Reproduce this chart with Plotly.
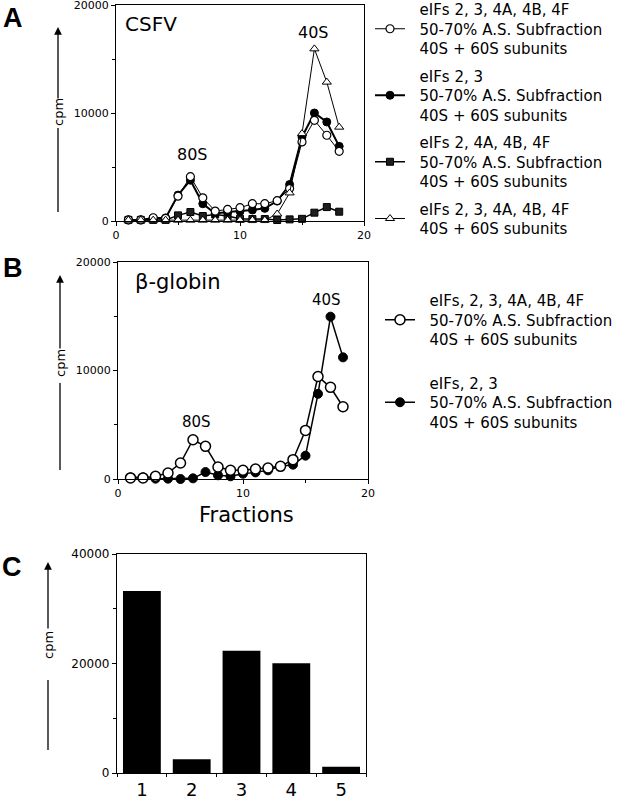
import plotly.graph_objects as go

W, H = 631, 800

# ---------------- data ----------------
fractions = list(range(1, 19))

# Panel A - CSFV
csfv_open = [100, 100, 300, 250, 2300, 4100, 2150, 920, 1070, 1230, 1600, 1600, 1880, 3000, 7320, 9320, 7940, 6450]
csfv_filled = [100, 100, 280, 280, 2400, 3780, 1600, 700, 830, 900, 1020, 1170, 1850, 3380, 7780, 10000, 9170, 6910]
csfv_square = [100, 100, 100, 100, 520, 830, 460, 600, 460, 200, 180, 180, 90, 150, 200, 770, 1290, 860]
csfv_triangle = [80, 80, 80, 80, 80, 80, 80, 80, 80, 80, 80, 80, 650, 2600, 8090, 15940, 12860, 8690]

# Panel B - beta-globin
glob_open = [100, 100, 250, 550, 1470, 3620, 3010, 1100, 800, 800, 920, 1010, 1170, 1780, 4480, 9450, 8450, 6660]
glob_filled = [150, 150, 30, 30, 0, 60, 640, 340, 250, 490, 610, 800, 1170, 1320, 2150, 7850, 14960, 11210]

# Panel C
bar_pos = [1, 2, 3, 4, 5]
bar_labels = ["1", "2", "3", "4", "5"]
bar_values = [33240, 2500, 22340, 20030, 1150]

NB = "\u00a0\u00a0"
def lg(*lines):
    return "<br>".join(NB + l for l in lines)

names_a = [
    lg("eIFs 2, 3, 4A, 4B, 4F", "50-70% A.S. Subfraction", "40S + 60S subunits"),
    lg("eIFs 2, 3", "50-70% A.S. Subfraction", "40S + 60S subunits"),
    lg("eIFs 2, 4A, 4B, 4F", "50-70% A.S. Subfraction", "40S + 60S subunits"),
    lg("eIFs 2, 3, 4A, 4B, 4F", "40S + 60S subunits"),
]
names_b = [
    lg("eIFs, 2, 3, 4A, 4B, 4F", "50-70% A.S. Subfraction", "40S + 60S subunits"),
    lg("eIFs, 2, 3", "50-70% A.S. Subfraction", "40S + 60S subunits"),
]

FONT = "DejaVu Sans"

def px_x(p):
    return p / W

def px_y(p):
    return (H - p) / H

fig = go.Figure()

# Panel A traces (drawing order: squares, filled, open, triangles)
fig.add_trace(go.Scatter(x=fractions, y=csfv_square, mode="lines+markers", xaxis="x", yaxis="y",
                         line=dict(color="black", width=1.5),
                         marker=dict(symbol="square", size=7, color="#1e1e1e", line=dict(color="black", width=1)),
                         name=names_a[2], legend="legend", legendgroup="a3", legendrank=3, cliponaxis=False))
fig.add_trace(go.Scatter(x=fractions, y=csfv_filled, mode="lines+markers", xaxis="x", yaxis="y",
                         line=dict(color="black", width=2),
                         marker=dict(symbol="circle", size=8, color="black", line=dict(color="black", width=1)),
                         name=names_a[1], legend="legend", legendgroup="a2", legendrank=2, cliponaxis=False))
fig.add_trace(go.Scatter(x=fractions, y=csfv_open, mode="lines+markers", xaxis="x", yaxis="y",
                         line=dict(color="black", width=1),
                         marker=dict(symbol="circle", size=8, color="white", line=dict(color="black", width=1.2)),
                         name=names_a[0], legend="legend", legendgroup="a1", legendrank=1, cliponaxis=False))
fig.add_trace(go.Scatter(x=fractions, y=csfv_triangle, mode="lines+markers", xaxis="x", yaxis="y",
                         line=dict(color="black", width=1),
                         marker=dict(symbol="triangle-up", size=8, color="white", line=dict(color="black", width=1)),
                         name=names_a[3], legend="legend", legendgroup="a4", legendrank=4, cliponaxis=False))

# Panel B traces
fig.add_trace(go.Scatter(x=fractions, y=glob_filled, mode="lines+markers", xaxis="x2", yaxis="y2",
                         line=dict(color="black", width=1.5),
                         marker=dict(symbol="circle", size=9, color="black", line=dict(color="black", width=1)),
                         name=names_b[1], legend="legend2", legendgroup="b2", legendrank=2, cliponaxis=False))
fig.add_trace(go.Scatter(x=fractions, y=glob_open, mode="lines+markers", xaxis="x2", yaxis="y2",
                         line=dict(color="black", width=1.5),
                         marker=dict(symbol="circle", size=10, color="white", line=dict(color="black", width=1.5)),
                         name=names_b[0], legend="legend2", legendgroup="b1", legendrank=1, cliponaxis=False))

# Panel C bars
fig.add_trace(go.Bar(x=bar_pos, y=bar_values, xaxis="x3", yaxis="y3", width=0.76,
                     marker=dict(color="black", line=dict(width=0)), showlegend=False))

axis_common = dict(showline=True, linecolor="black", linewidth=1.3, mirror=True, showgrid=False,
                   zeroline=False, ticks="outside", ticklen=4, tickwidth=1, tickcolor="black",
                   automargin=False, tickformat="d", ticklabeloverflow="allow",
                   tickfont=dict(family=FONT, size=11, color="black"))

fig.update_layout(
    template="none",
    width=W, height=H, margin=dict(l=0, r=0, t=0, b=0, autoexpand=False),
    paper_bgcolor="white", plot_bgcolor="white",
    font=dict(family=FONT, color="black"),
    xaxis=dict(domain=[px_x(116), px_x(364)], range=[0, 20], anchor="y", dtick=10,
               minor=dict(dtick=5, ticks="outside", ticklen=3, tickcolor="black"), **axis_common),
    yaxis=dict(domain=[px_y(221), px_y(5)], range=[0, 20000], anchor="x", dtick=10000,
               minor=dict(dtick=5000, ticks="outside", ticklen=3, tickcolor="black"), **axis_common),
    xaxis2=dict(domain=[px_x(118), px_x(368)], range=[0, 20], anchor="y2", dtick=10,
                minor=dict(dtick=5, ticks="outside", ticklen=3, tickcolor="black"), **axis_common),
    yaxis2=dict(domain=[px_y(479), px_y(262)], range=[0, 20000], anchor="x2", dtick=10000,
                minor=dict(dtick=5000, ticks="outside", ticklen=3, tickcolor="black"), **axis_common),
    xaxis3=dict(domain=[px_x(117), px_x(366)], range=[0.5, 5.5], anchor="y3",
                tickmode="array", tickvals=bar_pos, ticktext=bar_labels,
                minor=dict(tick0=0.5, dtick=1, ticks="outside", ticklen=3, tickcolor="black"),
                showline=True, linecolor="black", linewidth=1.3, mirror=True, showgrid=False, zeroline=False,
                automargin=False, ticklabeloverflow="allow",
                ticks="", tickfont=dict(family=FONT, size=18, color="black")),
    yaxis3=dict(domain=[px_y(773), px_y(554)], range=[0, 40000], anchor="x3", dtick=20000,
                minor=dict(dtick=10000, ticks="outside", ticklen=3, tickcolor="black"),
                showline=True, linecolor="black", linewidth=1.3, mirror=True, showgrid=False, zeroline=False,
                automargin=False, tickformat="d", ticklabeloverflow="allow",
                ticks="outside", ticklen=4, tickcolor="black",
                tickfont=dict(family=FONT, size=12, color="black")),
    bargap=0.24,
    legend=dict(x=px_x(370), y=px_y(-7), xanchor="left", yanchor="top", traceorder="grouped",
                tracegroupgap=5, itemwidth=30, valign="middle", bgcolor="rgba(0,0,0,0)",
                font=dict(family=FONT, size=15, color="black")),
    legend2=dict(x=px_x(380), y=px_y(284), xanchor="left", yanchor="top", traceorder="grouped",
                 tracegroupgap=21, itemwidth=30, valign="middle", bgcolor="rgba(0,0,0,0)",
                 font=dict(family=FONT, size=15, color="black")),
)

ann = []
# panel letters
for letter, cx, cy in [("A", 13, 18), ("B", 13, 268), ("C", 12, 567)]:
    ann.append(dict(text="<b>%s</b>" % letter, x=px_x(cx), y=px_y(cy), xref="paper", yref="paper",
                    showarrow=False, xanchor="center", yanchor="middle",
                    font=dict(family="Liberation Sans", size=27, color="black")))

# text in panels
ann += [
    dict(text="CSFV", x=0.56, y=18250, xref="x", yref="y", xanchor="left", yanchor="middle", showarrow=False,
         font=dict(family=FONT, size=20)),
    dict(text="80S", x=6.2, y=6180, xref="x", yref="y", showarrow=False, font=dict(family=FONT, size=16)),
    dict(text="40S", x=15.9, y=17420, xref="x", yref="y", showarrow=False, font=dict(family=FONT, size=16)),
    dict(text="β-globin", x=1.2, y=18160, xref="x2", yref="y2", xanchor="left", yanchor="middle", showarrow=False,
         font=dict(family=FONT, size=21)),
    dict(text="80S", x=6.3, y=5260, xref="x2", yref="y2", showarrow=False, font=dict(family=FONT, size=15)),
    dict(text="40S", x=16.7, y=16500, xref="x2", yref="y2", showarrow=False, font=dict(family=FONT, size=15)),
    dict(text="Fractions", x=px_x(246), y=px_y(515), xref="paper", yref="paper", showarrow=False,
         font=dict(family=FONT, size=21)),
]

shapes = []
# cpm labels with arrows
for ax_x, tip, tail, cpm_y, low0, low1 in [(58, 27, 100, 112, 128, 212),
                                           (60, 275, 350, 363, 383, 470),
                                           (48, 562, 630, 645, 680, 750)]:
    ann.append(dict(text="", x=px_x(ax_x), y=px_y(tip), xref="paper", yref="paper",
                    showarrow=True, ax=0, ay=tail - tip, arrowhead=2, arrowsize=1.2, arrowwidth=1.3,
                    arrowcolor="black", standoff=0))
    ann.append(dict(text="cpm", x=px_x(ax_x), y=px_y(cpm_y), xref="paper", yref="paper", showarrow=False,
                    textangle=-90, xanchor="center", yanchor="middle", font=dict(family=FONT, size=13)))
    shapes.append(dict(type="line", xref="paper", yref="paper", x0=px_x(ax_x), x1=px_x(ax_x),
                       y0=px_y(low0), y1=px_y(low1), line=dict(color="black", width=1.3)))

fig.update_layout(annotations=ann, shapes=shapes)

fig.write_html("out.html", config={"displayModeBar": False},
               post_script="document.body.style.margin='0px';")
